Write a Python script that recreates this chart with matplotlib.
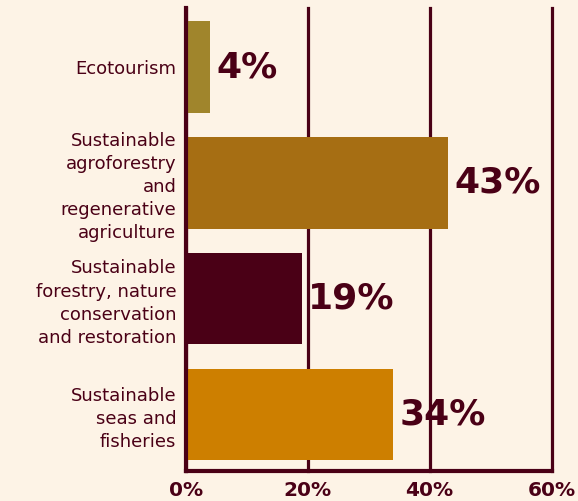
import matplotlib
matplotlib.use("Agg")
import matplotlib.pyplot as plt

categories = ["Ecotourism",
              "Sustainable\nagroforestry\nand\nregenerative\nagriculture",
              "Sustainable\nforestry, nature\nconservation\nand restoration",
              "Sustainable\nseas and\nfisheries"]
values = [4, 43, 19, 34]
colors = ["#A0852C", "#A66E13", "#4A0016", "#CD7F00"]
xticks = [0, 20, 40, 60]
xticklabels = ["0%", "20%", "40%", "60%"]

bg = "#FDF3E6"
ink = "#4A0016"

fig = plt.figure(figsize=(5.78, 5.01), dpi=100, facecolor=bg)
ax = fig.add_axes([186/578, 30/501, (551.5-186)/578, 463/501], facecolor=bg)

ypos = list(range(len(categories)))
ax.barh(ypos, values, height=0.79, color=colors, zorder=3)
for y, v in zip(ypos, values):
    ax.text(v + 1.0, y, f"{v}%", va="center", ha="left", fontsize=26,
            fontweight="bold", color=ink, zorder=4)

ax.set_xlim(0, 60)
ax.set_ylim(3.49, -0.51)
ax.set_xticks(xticks)
ax.set_xticklabels(xticklabels, fontsize=14.5, fontweight="bold", color=ink)
ax.set_yticks(ypos)
ax.set_yticklabels(categories, fontsize=13, color=ink, linespacing=1.36,
                   ha="right", multialignment="right")
ax.tick_params(axis="both", length=0)
ax.tick_params(axis="x", pad=7)
ax.tick_params(axis="y", pad=7)
ax.xaxis.grid(True, color=ink, linewidth=2.3, zorder=0)
for gl in ax.xaxis.get_gridlines():
    gl.set_clip_on(False)
ax.set_axisbelow(True)
for s in ["top", "right"]:
    ax.spines[s].set_visible(False)
for s in ["left", "bottom"]:
    ax.spines[s].set_color(ink)
    ax.spines[s].set_linewidth(3)
    ax.spines[s].set_zorder(5)

fig.savefig("out.png", dpi=100, facecolor=bg)
